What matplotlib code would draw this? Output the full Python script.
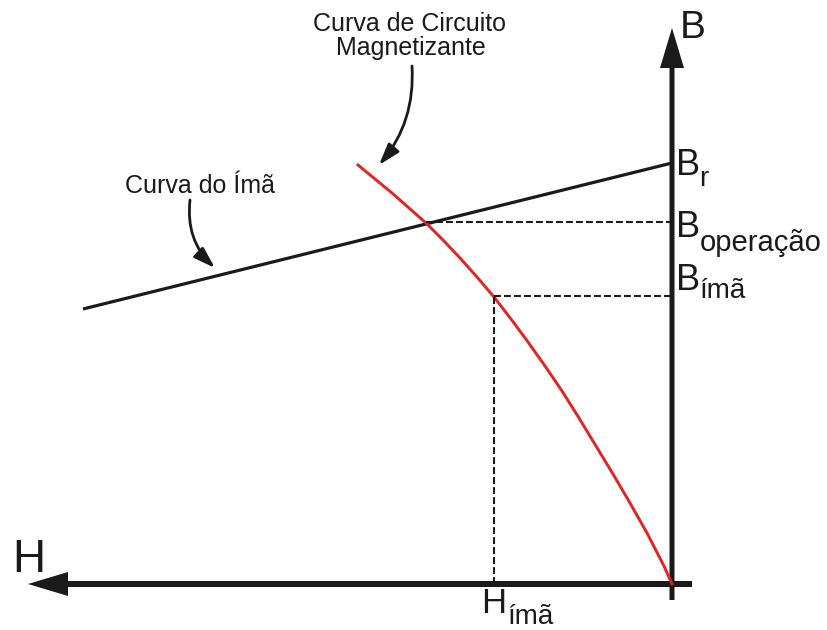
import matplotlib
matplotlib.use("Agg")
import matplotlib.pyplot as plt
from matplotlib.patches import FancyArrowPatch

plt.rcParams['font.family'] = ['Liberation Sans', 'DejaVu Sans']

# ---- data (H, B in drawing units; origin at axes crossing) ----
magnet_H = [-589, 0]
magnet_B = [275, 421]

circuit_H = [-314, -297, -280, -263, -246, -229, -212, -195, -178, -161,
             -144, -127, -110, -93, -76, -59, -42, -25, -8, 0]
circuit_B = [419, 405, 391, 376, 361, 344, 326, 307, 287, 265,
             242, 218, 193, 166, 138, 110, 81, 51, 18, 0]

B_r = 421
H_op, B_op = -246, 362
H_ima, B_ima = -178, 288

fig = plt.figure(figsize=(8.28, 6.30), dpi=100)
ax = fig.add_axes([0, 0, 1, 1])
ax.set_xlim(-672, 156)
ax.set_ylim(-46, 584)
ax.axis('off')

ink = '#1a1a1a'
# axes arrows
ax.arrow(0, -16, 0, 572, width=5, head_width=24, head_length=40,
         length_includes_head=True, color=ink, lw=0)
ax.arrow(20, 0, -664, 0, width=6, head_width=24, head_length=40,
         length_includes_head=True, color=ink, lw=0)

# magnet curve
ax.plot(magnet_H, magnet_B, color=ink, lw=2.3, solid_capstyle='butt')
# magnetizing circuit curve
ax.plot(circuit_H, circuit_B, color='#e3231f', lw=2.1, solid_joinstyle='round')

# dashed guides
dash = dict(color=ink, lw=1.5, linestyle=(0, (3.3, 1.5)))
ax.plot([H_op, 0], [B_op, B_op], **dash)
ax.plot([H_ima, 0], [B_ima, B_ima], **dash)
ax.plot([H_ima, H_ima], [0, B_ima], **dash)

# annotation arrows
a1 = FancyArrowPatch((-482, 384), (-457, 316), connectionstyle='arc3,rad=0.25',
                     arrowstyle='-|>,head_length=1.3,head_width=0.42', mutation_scale=10,
                     color=ink, lw=2.0, shrinkA=0, shrinkB=0)
ax.add_patch(a1)
a2 = FancyArrowPatch((-260, 518), (-293, 419), connectionstyle='arc3,rad=-0.2',
                     arrowstyle='-|>,head_length=1.3,head_width=0.42', mutation_scale=10,
                     color=ink, lw=2.0, shrinkA=0, shrinkB=0)
ax.add_patch(a2)

ax.text(-262, 553, 'Curva de Circuito', fontsize=18, ha='center', va='baseline', color=ink)
ax.text(-261, 529, 'Magnetizante', fontsize=18, ha='center', va='baseline', color=ink)
ax.text(-472, 391, 'Curva do Ímã', fontsize=18, ha='center', va='baseline', color=ink)

# axis labels
ax.text(8, 546, 'B', fontsize=28, ha='left', va='baseline', color=ink)
ax.text(-660, 12, 'H', fontsize=33, ha='left', va='baseline', color=ink)

# B labels
ax.text(4, 409, 'B', fontsize=26, ha='left', va='baseline', color=ink)
ax.text(27, 398, 'r', fontsize=20, ha='left', va='baseline', color=ink)
ax.text(4, 347, 'B', fontsize=26, ha='left', va='baseline', color=ink)
ax.text(28, 333, 'operação', fontsize=21, ha='left', va='baseline', color=ink)
ax.text(4, 294, 'B', fontsize=26, ha='left', va='baseline', color=ink)
ax.text(27, 286, 'ímã', fontsize=20, ha='left', va='baseline', color=ink)

# H label
ax.text(-191, -29, 'H', fontsize=25, ha='left', va='baseline', color=ink)
ax.text(-165, -40, 'ímã', fontsize=20, ha='left', va='baseline', color=ink)

fig.savefig('out.png', dpi=100, facecolor='white')
